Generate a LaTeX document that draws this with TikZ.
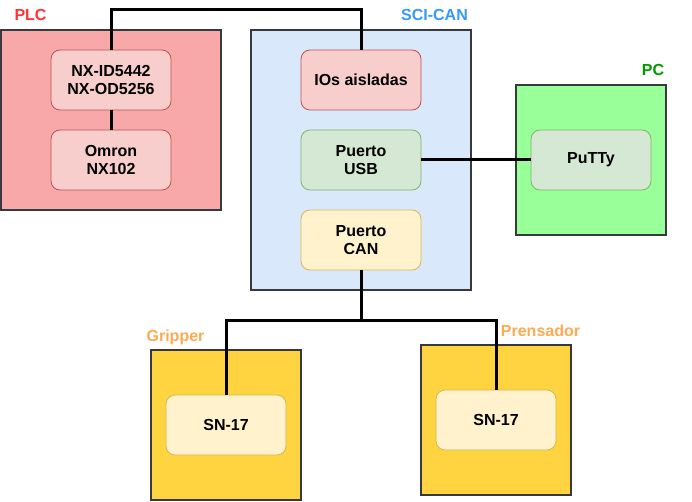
\documentclass[tikz,border=0pt]{standalone}
\usepackage{fontspec}
\setmainfont{Liberation Sans}
\definecolor{plcfill}{RGB}{248,168,168}
\definecolor{scifill}{RGB}{218,232,252}
\definecolor{pcfill}{RGB}{153,255,153}
\definecolor{motfill}{RGB}{255,212,64}
\definecolor{redfill}{RGB}{248,206,204}
\definecolor{redline}{RGB}{184,84,80}
\definecolor{greenfill}{RGB}{213,232,212}
\definecolor{greenline}{RGB}{130,179,102}
\definecolor{yellowfill}{RGB}{255,242,204}
\definecolor{yellowline}{RGB}{214,182,86}
\definecolor{outerline}{RGB}{54,57,61}
\definecolor{plctext}{RGB}{255,51,51}
\definecolor{scitext}{RGB}{51,153,255}
\definecolor{pctext}{RGB}{0,153,0}
\definecolor{mottext}{RGB}{255,170,80}
\begin{document}
\begin{tikzpicture}[x=1pt,y=-1pt,
  every node/.style={font=\bfseries\fontsize{16}{18.4}\selectfont, inner sep=0pt, outer sep=0pt},
  outerbox/.style={draw=outerline, line width=2pt, rectangle},
  innerbox/.style={rectangle, rounded corners=9pt, line width=0.8pt, minimum width=120pt, minimum height=60pt, align=center},
  redbox/.style={innerbox, fill=redfill, draw=redline},
  greenbox/.style={innerbox, fill=greenfill, draw=greenline},
  yellowbox/.style={innerbox, fill=yellowfill, draw=yellowline},
  grouplabel/.style={anchor=base},
  wire/.style={line width=3pt, black}
]
\useasboundingbox (0,0) rectangle (692,502);
% outer boxes
\node[outerbox, fill=plcfill, minimum width=220pt, minimum height=180pt] (plc) at (111,120) {};
\node[outerbox, fill=scifill, minimum width=220pt, minimum height=260pt] (sci) at (361,160) {};
\node[outerbox, fill=pcfill, minimum width=150pt, minimum height=150pt] (pc) at (591,160) {};
\node[outerbox, fill=motfill, minimum width=150pt, minimum height=150pt] (grip) at (226,425) {};
\node[outerbox, fill=motfill, minimum width=150pt, minimum height=150pt] (pren) at (496,420) {};
% group labels
\node[grouplabel, text=plctext] (lplc) at (30.5,20.5) {PLC};
\node[grouplabel, text=scitext] (lsci) at (434.5,20.5) {SCI-CAN};
\node[grouplabel, text=pctext] (lpc) at (653,75.7) {PC};
\node[grouplabel, text=mottext] (lgrip) at (175.5,341) {Gripper};
\node[grouplabel, text=mottext] (lpren) at (540.5,336) {Prensador};
% inner boxes
\node[redbox] (nx) at (111,80) {NX-ID5442\\NX-OD5256};
\node[redbox] (omron) at (111,160) {Omron\\NX102};
\node[redbox] (ios) at (361,80) {IOs aisladas};
\node[greenbox] (usb) at (361,160) {Puerto\\USB};
\node[yellowbox] (can) at (361,240) {Puerto\\CAN};
\node[greenbox] (putty) at (591,160) {PuTTy};
\node[yellowbox] (sn1) at (226,425) {SN-17};
\node[yellowbox] (sn2) at (496,420) {SN-17};
% connectors
\coordinate (topbus) at (236,10);
\coordinate (canbus) at (361,320);
\draw[wire] (nx.north) |- (topbus) -| (ios.north);
\draw[wire] (nx.south) -- (omron.north);
\draw[wire] (usb.east) -- (putty.west);
\draw[wire] (can.south) -- (canbus);
\draw[wire] (canbus) -| (sn1.north);
\draw[wire] (canbus) -| (sn2.north);
\end{tikzpicture}
\end{document}
